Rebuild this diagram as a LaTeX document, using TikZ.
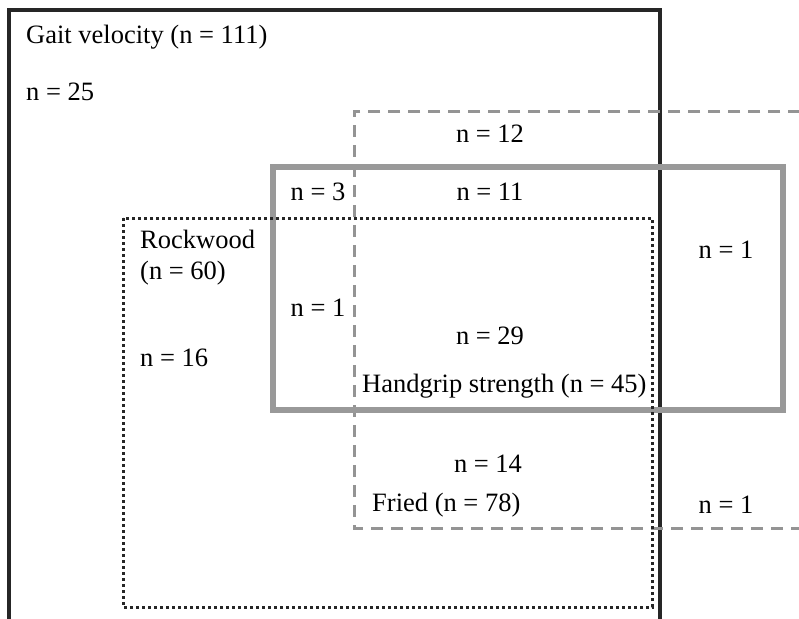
\documentclass[tikz,border=0pt]{standalone}
\usepackage{fontspec}
\setmainfont{Liberation Serif}
\begin{document}
\begin{tikzpicture}[x=1pt,y=-1pt,
  lbl/.style={inner sep=0pt,font=\fontsize{26.5}{31}\selectfont},
  gaitbox/.style={draw=black!85,line width=3.4pt},
  friedbox/.style={draw=black!42,line width=3pt,dash pattern=on 12pt off 8pt},
  gripbox/.style={draw=black!40,line width=5.5pt},
  rockbox/.style={draw=black!85,line width=3pt,dash pattern=on 2.6pt off 3.4pt}]
\useasboundingbox (0,0) rectangle (799,618);
\fill[white] (0,0) rectangle (799,618);
% boxes
\draw[gaitbox] (9,640) -- (9,10) -- (660,10) -- (660,640);
\draw[friedbox] (820,111) -- (354,111) -- (354,528) -- (820,528);
\draw[gripbox] (273,167) rectangle (783,410);
\draw[rockbox] (123,218) rectangle (652,607);
% labels
\node[lbl,anchor=west] (gait) at (26,37) {Gait velocity (n = 111)};
\node[lbl,anchor=west] (g25) at (26,92) {n = 25};
\node[lbl] (f12) at (490,134) {n = 12};
\node[lbl] (n3) at (318,192) {n = 3};
\node[lbl] (n11) at (490,192) {n = 11};
\node[lbl,anchor=west,align=left] (rock) at (140,258) {Rockwood\\(n = 60)};
\node[lbl] (n1a) at (726,250) {n = 1};
\node[lbl] (n1b) at (318,308) {n = 1};
\node[lbl] (n29) at (490,336) {n = 29};
\node[lbl,anchor=west] (n16) at (140,358) {n = 16};
\node[lbl,anchor=west] (grip) at (362,386) {Handgrip strength (n = 45)};
\node[lbl] (n14) at (488,464) {n = 14};
\node[lbl,anchor=west] (fried) at (372,505) {Fried (n = 78)};
\node[lbl] (n1c) at (726,505) {n = 1};
\end{tikzpicture}
\end{document}
